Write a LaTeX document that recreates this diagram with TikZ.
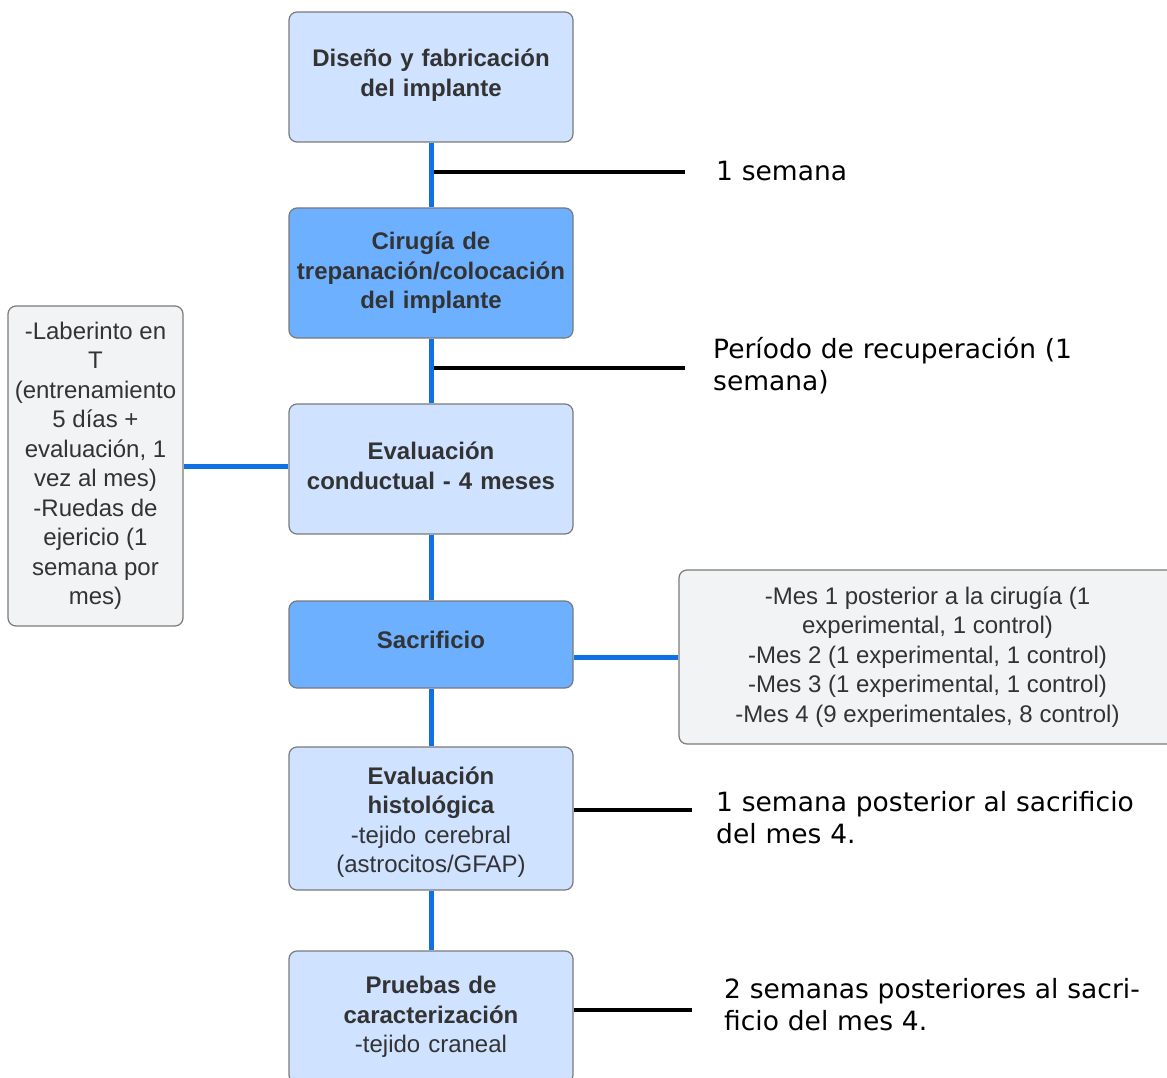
\documentclass[tikz,border=0pt]{standalone}
\usepackage{fontspec}
\setmainfont{Liberation Sans}
\newfontfamily\rfont{DejaVu Sans}
\definecolor{lightbox}{HTML}{CFE2FF}
\definecolor{darkbox}{HTML}{6DB0FF}
\definecolor{graybox}{HTML}{F2F3F5}
\definecolor{edgecol}{HTML}{7A7A7A}
\definecolor{txt}{HTML}{333333}
\definecolor{blueline}{HTML}{1071E5}
\tikzset{
  box/.style={draw=edgecol, line width=1.2pt, rounded corners=8pt, minimum width=284pt,
    text width=280pt, align=center, text=txt, inner sep=0pt,
    font=\fontsize{24}{29.5}\selectfont},
  liftby/.style={execute at end node={\par\vspace{#1}}},
  lightbox/.style={box, fill=lightbox},
  darkbox/.style={box, fill=darkbox},
  sidebox/.style={draw=edgecol, line width=1.2pt, rounded corners=8pt, fill=graybox,
    align=center, text=txt, inner sep=0pt, font=\fontsize{24}{29.5}\selectfont},
  bl/.style={draw=blueline, line width=5pt},
  kl/.style={draw=black, line width=4.6pt},
  note/.style={anchor=base west, text width=460pt, align=left, inner sep=0pt,
    font=\rfont\fontsize{26.5}{32.5}\selectfont},
}
\begin{document}
\begin{tikzpicture}[x=1pt,y=-1pt]
\useasboundingbox (0,0) rectangle (1167,1078);
% main column
\node[lightbox, liftby=4pt, minimum height=130pt] (box1) at (431,77) {\textbf{Diseño y fabricación}\\\textbf{del implante}};
\node[darkbox, minimum height=130pt] (box2) at (431,273) {\textbf{Cirugía de}\\\textbf{trepanación/colocación}\\\textbf{del implante}};
\node[lightbox, liftby=6pt, minimum height=130pt] (box3) at (431,469) {\textbf{Evaluación}\\\textbf{conductual - 4 meses}};
\node[darkbox, liftby=10pt, minimum height=87pt] (box4) at (431,644.5) {\textbf{Sacrificio}};
\node[lightbox, liftby=-7pt, minimum height=143pt] (box5) at (431,818.5) {\textbf{Evaluación}\\\textbf{histológica}\\-tejido cerebral\\(astrocitos/GFAP)};
\node[lightbox, minimum height=132pt] (box6) at (431,1017) {\textbf{Pruebas de}\\\textbf{caracterización}\\-tejido craneal};
% side boxes
\node[sidebox, minimum width=175pt, minimum height=320pt] (left) at (95.5,466)
  {-Laberinto en\\T\\(entrenamiento\\5 días +\\evaluación, 1\\vez al mes)\\-Ruedas de\\ejericio (1\\semana por\\mes)};
\node[sidebox, minimum width=497pt, minimum height=174pt] (right) at (927.5,657)
  {-Mes 1 posterior a la cirugía (1\\experimental, 1 control)\\-Mes 2 (1 experimental, 1 control)\\-Mes 3 (1 experimental, 1 control)\\-Mes 4 (9 experimentales, 8 control)};
% blue connectors
\draw[bl] (box1) -- (box2);
\draw[bl] (box2) -- (box3);
\draw[bl] (box3) -- (box4);
\draw[bl] (box4) -- (box5);
\draw[bl] (box5) -- (box6);
\draw[bl] (left.east) -- (left.east -| box3.west);
\draw[bl] (right.west -| box4.east) -- (right.west);
% time notes
\coordinate (k1) at (685,172);
\coordinate (k2) at (685,368);
\coordinate (k3) at (692,810);
\coordinate (k4) at (692,1010);
\draw[kl] ([xshift=2.5pt]box1.south |- k1) -- (k1);
\draw[kl] ([xshift=2.5pt]box2.south |- k2) -- (k2);
\draw[kl] (box5.east |- k3) -- (k3);
\draw[kl] (box6.east |- k4) -- (k4);
\node[note] (n1) at (716,181) {1 semana};
\node[note] (n2) at (713,358) {Período de recuperación (1\\semana)};
\node[note] (n3) at (716,811) {1 semana posterior al sacrificio\\del mes 4.};
\node[note] (n4) at (724,998) {2 semanas posteriores al sacri-\\ficio del mes 4.};
\end{tikzpicture}
\end{document}
